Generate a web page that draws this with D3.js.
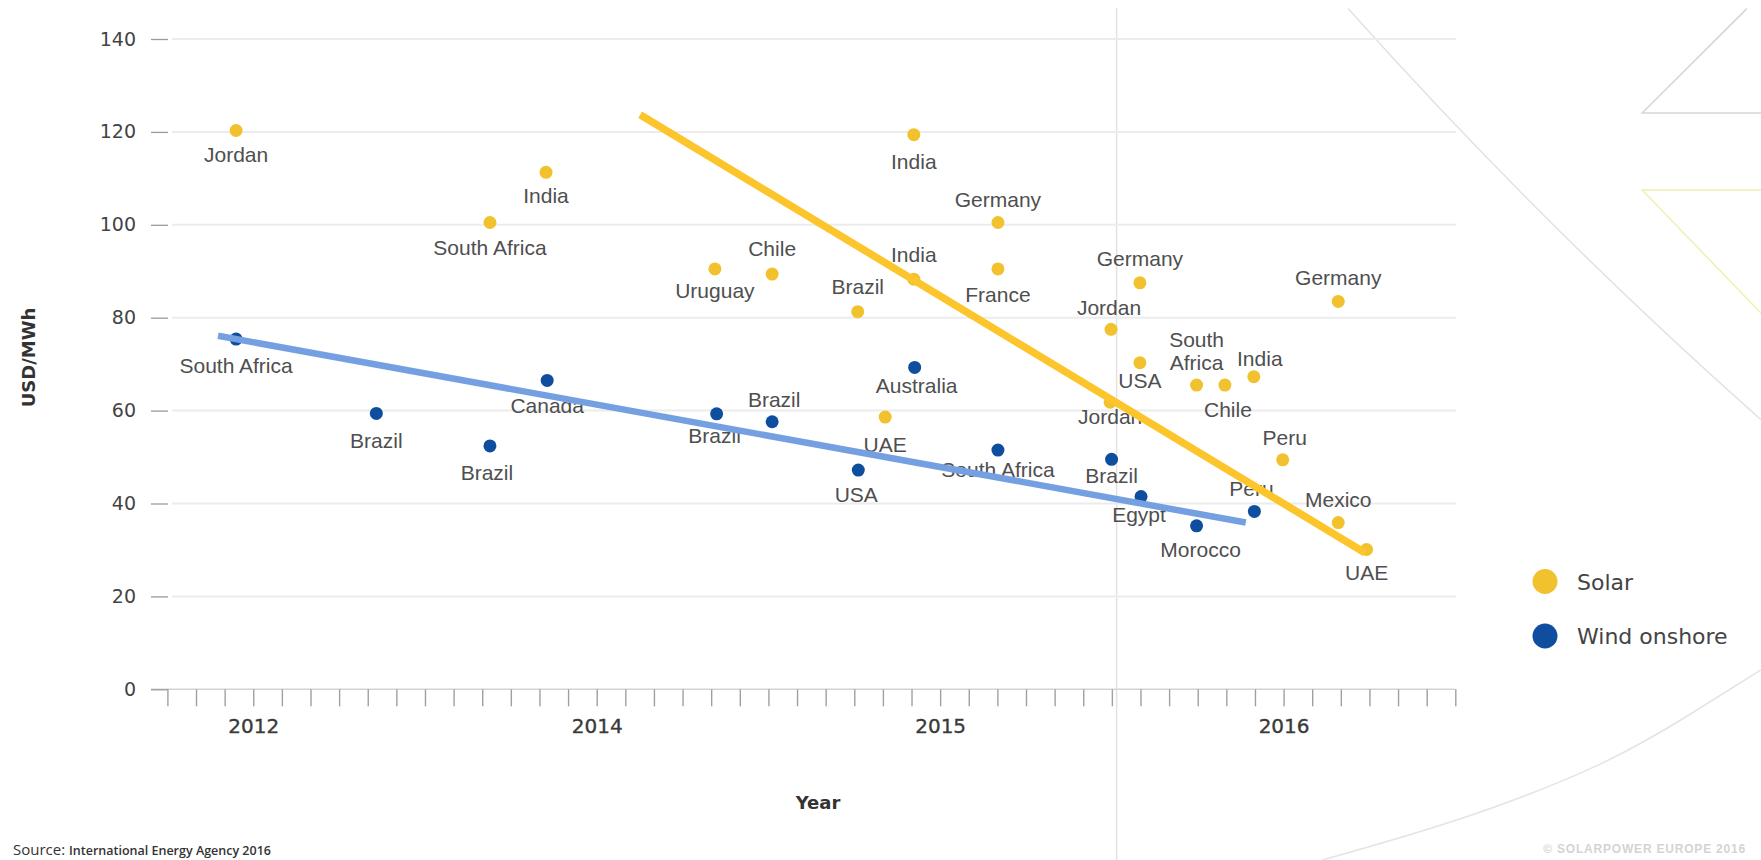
<!DOCTYPE html>
<html><head><meta charset="utf-8">
<script src="https://cdn.jsdelivr.net/npm/d3@7"></script>
<style>
html,body{margin:0;padding:0;background:#fff;}
svg{display:block;}
</style></head>
<body>
<svg id="chart" width="1761" height="860"></svg>
<script>
// ---------------- data ----------------
const yTicks = [0, 20, 40, 60, 80, 100, 120, 140];
const monthTicks = d3.range(0, 46);
const yearTickIdx = [3, 15, 27, 39];
const yearTickLabels = ["2012", "2014", "2015", "2016"];

const solarCountries = ["Jordan","South Africa","India","Uruguay","Chile","Brazil","India","India","Germany","France","UAE","Germany","Jordan","USA","Jordan","South\nAfrica","Chile","India","Peru","Germany","Mexico","UAE"];
const solarTime  = [2.4, 11.27, 13.23, 19.13, 21.13, 24.12, 26.08, 26.08, 29.02, 29.02, 25.08, 33.98, 32.97, 33.98, 32.94, 35.96, 36.95, 37.96, 38.97, 40.91, 40.91, 41.9];
const solarPrice = [120.3, 100.5, 111.3, 90.5, 89.4, 81.3, 88.3, 119.4, 100.5, 90.5, 58.6, 87.5, 77.5, 70.3, 61.8, 65.5, 65.5, 67.3, 49.4, 83.5, 35.9, 30.1];

const windCountries = ["South Africa","Brazil","Brazil","Canada","Brazil","Brazil","USA","Australia","South Africa","Brazil","Egypt","Morocco","Peru"];
const windTime  = [2.4, 7.3, 11.27, 13.27, 19.19, 21.13, 24.14, 26.11, 29.02, 32.99, 34.02, 35.96, 37.98];
const windPrice = [75.4, 59.4, 52.4, 66.5, 59.3, 57.6, 47.2, 69.3, 51.5, 49.5, 41.5, 35.2, 38.3];

const solarTrendTime  = [16.52, 41.84];
const solarTrendPrice = [123.7, 29.4];
const windTrendTime   = [1.77, 37.68];
const windTrendPrice  = [76.1, 35.9];

const seriesNames = ["Solar", "Wind onshore"];

// ---------------- label layout (px offsets from each point) ----------------
const solarLabelDy = [31, 33, 31, 29, -18, -18, -17, 34, -15, 33, 35, -17, -14, 25, 22, -15, 32, -11, -15, -16, -16, 31];
const solarLabelDx = [0, 0, 0, 0, 0, 0, 0, 0, 0, 0, 0, 0, -2, 0, 0, 0, 3, 6, 2, 0, 0, 0];
const windLabelDy  = [34, 35, 34, 33, 29, -15, 32, 26, 27, 24, 25, 31, -15];
const windLabelDx  = [0, 0, -3, 0, -2, 2, -2, 2, 0, 0, -2, 4, -3];

// ---------------- styles ----------------
const W = 1761, H = 860;
const solarColor = "#f2c12e", windColor = "#0f4e9e";
const solarTrendColor = "#fdc52c", windTrendColor = "#74a0e2";
const labelFont = "'Liberation Sans', Arial, sans-serif";
const tickFont = "'DejaVu Sans', Verdana, sans-serif";

const svg = d3.select("#chart");

const x = d3.scaleLinear().domain([0, 45]).range([167.4, 1455.3]);
const y = d3.scaleLinear().domain([0, 140]).range([689.3, 39]);

// ---------------- background decoration ----------------
const deco = svg.append("g").attr("fill", "none");
deco.append("path")
  .attr("d", `M${W*0.7655},${H*0.01} Q${W*0.876},${H*0.263} ${W},${H*0.488}`)
  .attr("stroke", "#e2e2e2").attr("stroke-width", 1.5);
deco.append("path")
  .attr("d", d3.line().curve(d3.curveNatural)([[W*0.751,H],[W*0.828,H*0.953],[W*0.905,H*0.892],[W*0.957,H*0.834],[W,H*0.779]]))
  .attr("stroke", "#e4e4e4").attr("stroke-width", 1.5);
deco.append("path")
  .attr("d", `M${W},${H*0.1315} L${W*0.9325},${H*0.1315} L${W*0.992},${H*0.01}`)
  .attr("stroke", "#d6d6d6").attr("stroke-width", 1.5);
deco.append("path")
  .attr("d", `M${W},${H*0.221} L${W*0.9325},${H*0.221} L${W},${H*0.364}`)
  .attr("stroke", "#f1efb0").attr("stroke-width", 1.5);

// vertical reference line
svg.append("line")
  .attr("x1", 1116.6).attr("x2", 1116.6).attr("y1", 8).attr("y2", H)
  .attr("stroke", "#e2e2e2").attr("stroke-width", 1.5);

// ---------------- gridlines ----------------
svg.append("g").selectAll("line").data(yTicks.filter(d => d > 0)).join("line")
  .attr("x1", 172).attr("x2", 1456)
  .attr("y1", d => y(d)).attr("y2", d => y(d))
  .attr("stroke", "#ececec").attr("stroke-width", 2);

// x axis baseline
svg.append("line")
  .attr("x1", 151).attr("x2", x(45)).attr("y1", y(0)).attr("y2", y(0))
  .attr("stroke", "#d4d4d4").attr("stroke-width", 1.5);

// ---------------- axes ----------------
const yAxis = svg.append("g").attr("transform", "translate(168,0)")
  .call(d3.axisLeft(y).tickValues(yTicks).tickSize(17).tickPadding(15));
yAxis.select(".domain").remove();
yAxis.selectAll(".tick line").attr("stroke", "#9a9a9a").attr("stroke-width", 1.3);
yAxis.selectAll(".tick text")
  .attr("font-family", tickFont).attr("font-size", 19).attr("fill", "#444");

const xAxis = svg.append("g").attr("transform", `translate(0,${y(0)})`)
  .call(d3.axisBottom(x).tickValues(monthTicks).tickSize(17)
    .tickFormat(d => { const i = yearTickIdx.indexOf(d); return i >= 0 ? yearTickLabels[i] : ""; }));
xAxis.select(".domain").remove();
xAxis.selectAll(".tick line").attr("stroke", "#a0a0a0").attr("stroke-width", 1.4);
xAxis.selectAll(".tick text")
  .attr("y", 44).attr("dy", 0)
  .attr("font-family", tickFont).attr("font-size", 20)
  .attr("fill", "#3a3a3a").attr("stroke", "#3a3a3a").attr("stroke-width", 0.35);

// axis titles
svg.append("text").attr("x", 818).attr("y", 809).attr("text-anchor", "middle")
  .attr("font-family", tickFont).attr("font-weight", "bold").attr("font-size", 18)
  .attr("fill", "#333").text("Year");
svg.append("text").attr("transform", "translate(35,357.5) rotate(-90)").attr("text-anchor", "middle")
  .attr("font-family", tickFont).attr("font-weight", "bold").attr("font-size", 18)
  .attr("fill", "#333").text("USD/MWh");

// ---------------- points ----------------
const solarData = solarCountries.map((c, i) => ({c, t: solarTime[i], v: solarPrice[i], dx: solarLabelDx[i], dy: solarLabelDy[i]}));
const windData  = windCountries.map((c, i) => ({c, t: windTime[i], v: windPrice[i], dx: windLabelDx[i], dy: windLabelDy[i]}));

function drawSeries(data, color) {
  const g = svg.append("g");
  g.selectAll("circle").data(data).join("circle")
    .attr("cx", d => x(d.t)).attr("cy", d => y(d.v)).attr("r", 6.5)
    .attr("fill", color);
  const tg = g.append("g")
    .attr("font-family", labelFont).attr("font-size", 21).attr("fill", "#4f4f4f")
    .attr("text-anchor", "middle");
  data.forEach(d => {
    const lines = d.c.split("\n");
    const n = lines.length;
    lines.forEach((ln, k) => {
      const off = d.dy < 0 ? d.dy - (n - 1 - k) * 23 : d.dy + k * 23;
      tg.append("text")
        .attr("x", x(d.t) + d.dx).attr("y", y(d.v) + off)
        .text(ln);
    });
  });
}
drawSeries(solarData, solarColor);
drawSeries(windData, windColor);

// ---------------- trend lines ----------------
const line = d3.line().x(d => x(d[0])).y(d => y(d[1]));
svg.append("path")
  .attr("d", line(windTrendTime.map((t, i) => [t, windTrendPrice[i]])))
  .attr("stroke", windTrendColor).attr("stroke-width", 6.5).attr("fill", "none");
svg.append("path")
  .attr("d", line(solarTrendTime.map((t, i) => [t, solarTrendPrice[i]])))
  .attr("stroke", solarTrendColor).attr("stroke-width", 7.5).attr("fill", "none");

// ---------------- legend ----------------
const legend = svg.append("g").attr("transform", "translate(1545,581.5)");
const legColors = [solarColor, windColor];
legend.selectAll("circle").data(seriesNames).join("circle")
  .attr("cx", 0).attr("cy", (d, i) => i * 54.5).attr("r", 12.5)
  .attr("fill", (d, i) => legColors[i]);
legend.selectAll("text").data(seriesNames).join("text")
  .attr("x", 32).attr("y", (d, i) => i * 54.5 + 8)
  .attr("font-family", tickFont).attr("font-size", 22).attr("fill", "#444")
  .text(d => d);

// ---------------- source & copyright ----------------
const src = svg.append("text").attr("x", 13).attr("y", 855).attr("fill", "#333");
src.append("tspan").attr("font-family", "'Open Sans', sans-serif").attr("font-size", 15).text("Source: ");
src.append("tspan").attr("font-family", "'Open Sans', sans-serif").attr("font-size", 12.5).attr("font-weight", 600)
  .text("International Energy Agency 2016");

svg.append("text").attr("x", 1746).attr("y", 853).attr("text-anchor", "end")
  .attr("font-family", labelFont).attr("font-weight", "bold").attr("font-size", 12)
  .attr("letter-spacing", 0.8).attr("fill", "#d4d4d4")
  .text("© SOLARPOWER EUROPE 2016");
</script>
</body></html>
